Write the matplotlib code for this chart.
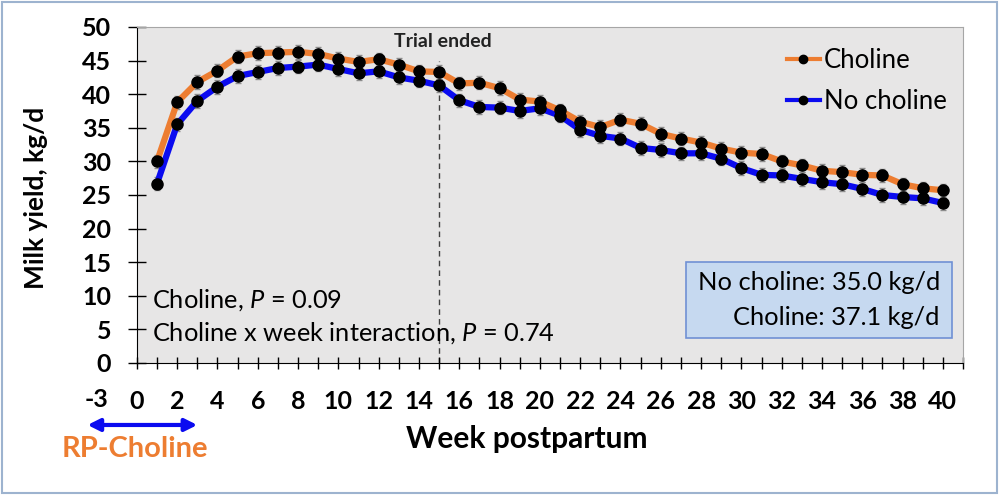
import matplotlib.pyplot as plt
from matplotlib.lines import Line2D
from matplotlib.patches import Rectangle
from matplotlib.transforms import blended_transform_factory

plt.rcParams['font.family'] = ['Lato', 'DejaVu Sans']
plt.rcParams['mathtext.fontset'] = 'custom'
plt.rcParams['mathtext.rm'] = 'Lato'
plt.rcParams['mathtext.it'] = 'Lato:italic'
plt.rcParams['mathtext.bf'] = 'Lato:bold'

# ── DATI ────────────────────────────────────────────────────
weeks = list(range(1, 41))
choline = [30.0, 38.8, 41.8, 43.5, 45.6, 46.1, 46.2, 46.3, 46.0, 45.3,
           44.8, 45.2, 44.4, 43.4, 43.3, 41.6, 41.7, 40.9, 39.2, 38.9,
           37.6, 35.9, 35.1, 36.2, 35.6, 34.1, 33.4, 32.8, 31.9, 31.3,
           31.1, 30.0, 29.4, 28.6, 28.4, 28.0, 27.9, 26.6, 26.0, 25.7]
no_choline = [26.7, 35.5, 39.0, 41.1, 42.7, 43.3, 43.9, 44.1, 44.4, 43.75,
              43.1, 43.4, 42.5, 42.0, 41.3, 39.1, 38.1, 38.0, 37.5, 37.9,
              36.8, 34.7, 33.8, 33.4, 32.0, 31.7, 31.2, 31.2, 30.4, 29.0,
              28.0, 27.9, 27.4, 26.9, 26.6, 25.9, 25.0, 24.7, 24.5, 23.8]
SE = 1.0  # errore standard (barre grigie)
media_no_choline = 35.0
media_choline = 37.1
fine_trial = 15

COL_ORANGE = "#ed7d31"
COL_BLUE = "#0b0bf0"

fig = plt.figure(figsize=(9.99, 4.95), dpi=100)
ax = fig.add_axes([0.137, 0.2667, 0.827, 0.6788])
ax.set_facecolor("#e7e6e6")

# barre di errore
ax.errorbar(weeks, choline, yerr=SE, fmt="none", ecolor="#8c8c8c",
            elinewidth=1, capsize=2, zorder=2)
ax.errorbar(weeks, no_choline, yerr=SE, fmt="none", ecolor="#8c8c8c",
            elinewidth=1, capsize=2, zorder=2)

# linee
ax.plot(weeks, no_choline, color=COL_BLUE, lw=4.5, zorder=3,
        solid_joinstyle="round")
ax.plot(weeks, choline, color=COL_ORANGE, lw=4.5, zorder=3,
        solid_joinstyle="round")
ax.plot(weeks, no_choline, "o", color="black", ms=8, zorder=4)
ax.plot(weeks, choline, "o", color="black", ms=8, zorder=4)

# linea "Trial ended"
ax.plot([fine_trial, fine_trial], [0, 45], color="#404040", lw=1,
        ls=(0, (4, 3)), zorder=1)
ax.text(fine_trial + 0.2, 47.8, "Trial ended", ha="center", va="center",
        fontsize=14, fontweight="bold", color="#222222")

# assi
ax.set_xlim(0, 41)
ax.set_ylim(0, 50)
ax.set_yticks(range(0, 51, 5))
ax.set_xticks(range(0, 41, 2))
ax.set_xticks(range(0, 42), minor=True)
ax.tick_params(axis="y", direction="inout", length=13, width=1, pad=12,
               labelsize=18)
ax.tick_params(axis="x", which="both", direction="inout", length=9,
               width=1, pad=15, labelsize=18)
for lab in ax.get_xticklabels() + ax.get_yticklabels():
    lab.set_fontweight("bold")
for s in ("top", "right"):
    ax.spines[s].set_color("#a6a6a6")
for s in ("left", "bottom"):
    ax.spines[s].set_color("black")

ax.set_ylabel("Milk yield, kg/d", fontsize=19, fontweight="bold")
ax.yaxis.set_label_coords(-0.108, 0.49)
ax.set_xlabel("Week postpartum", fontsize=21.5, fontweight="bold")
ax.xaxis.set_label_coords(0.472, -0.185)

trans = blended_transform_factory(ax.transData, ax.transAxes)
ax.text(-2, -0.108, "-3", transform=trans, ha="center", va="center",
        fontsize=18, fontweight="bold", clip_on=False)

# freccia RP-Choline
ax.annotate("", xy=(-2.45, -0.1845), xytext=(3.0, -0.1845),
            xycoords=trans, textcoords=trans,
            arrowprops=dict(arrowstyle="<|-|>", color=COL_BLUE, lw=3,
                            mutation_scale=18, shrinkA=0, shrinkB=0),
            annotation_clip=False)
ax.text(-0.1, -0.255, "RP-Choline", transform=trans, ha="center",
        va="center", fontsize=21, fontweight="bold", color=COL_ORANGE,
        clip_on=False)

# testi statistici
ax.text(0.74, 9.4, "Choline, $P$ = 0.09", ha="left", va="center",
        fontsize=18.3)
ax.text(0.74, 4.5, "Choline x week interaction, $P$ = 0.74", ha="left",
        va="center", fontsize=18.3)

# riquadro medie
ax.add_patch(Rectangle((27.25, 3.7), 13.2, 11.3, facecolor="#c6d9f0",
                       edgecolor="#7090d4", lw=1.2, zorder=5))
ax.text(39.85, 12.05, f"No choline: {media_no_choline:.1f} kg/d",
        ha="right", va="center", fontsize=18.3, zorder=6)
ax.text(39.85, 6.7, f"Choline: {media_choline:.1f} kg/d",
        ha="right", va="center", fontsize=18.3, zorder=6)

# legenda
handles = [
    Line2D([], [], color=COL_ORANGE, lw=3, marker="o", mfc="black",
           mec="black", ms=6),
    Line2D([], [], color=COL_BLUE, lw=3, marker="o", mfc="black",
           mec="black", ms=6),
]
ax.legend(handles, ["Choline", "No choline"], loc="upper left",
          bbox_to_anchor=(0.771, 0.975), frameon=False, borderpad=0,
          handlelength=1.3, handletextpad=0.15, labelspacing=0.62,
          fontsize=18.5)

# cornice esterna
fig.patches.append(Rectangle((0.002, 0.004), 0.996, 0.992,
                             transform=fig.transFigure, fill=False,
                             edgecolor="#9db3cf", lw=1.5))

fig.savefig("out.png", dpi=100)
